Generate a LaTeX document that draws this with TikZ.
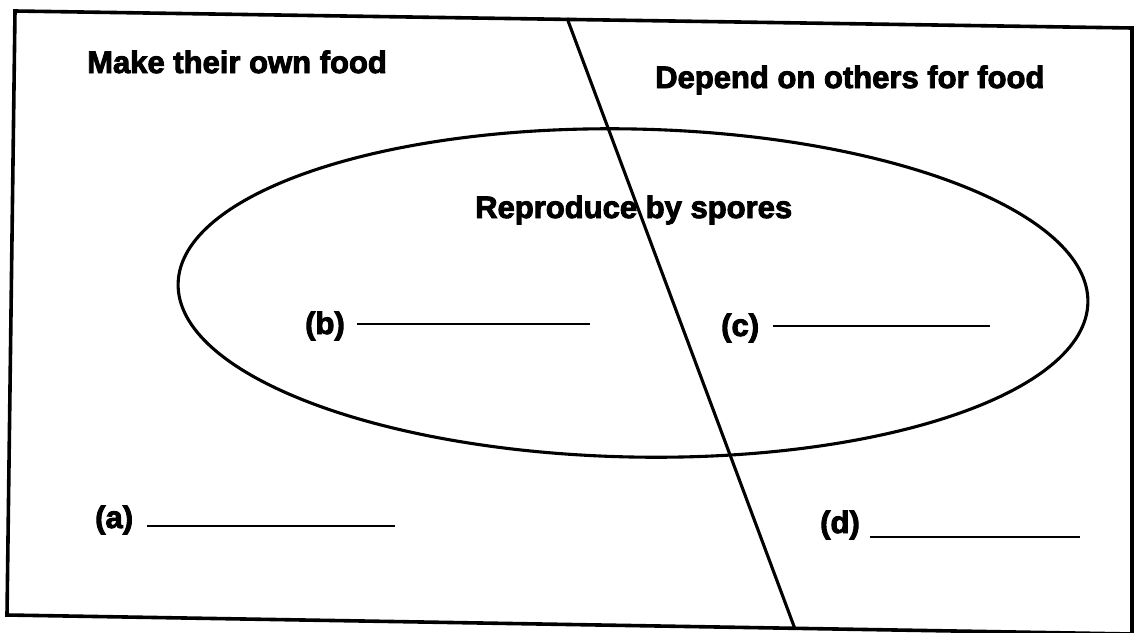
\documentclass[tikz,border=0pt]{standalone}
\usepackage{fontspec}
\setmainfont{Liberation Sans}[BoldFeatures={FakeBold=3}]
\usetikzlibrary{shapes.geometric}
\begin{document}
\begin{tikzpicture}[x=1pt,y=-1pt,
  txt/.style={inner sep=0pt, font=\fontsize{31}{37}\selectfont\bfseries},
  frame/.style={line width=3.6pt, line join=miter},
  curve/.style={line width=3.1pt},
  uline/.style={line width=2.4pt}]
\useasboundingbox (0,0) rectangle (1134,632);
% frame
\draw[frame] (15,11) -- (1132,28) -- (1132,634) -- (7,615) -- cycle;
% ellipse
\node[draw, curve, ellipse, minimum width=910pt, minimum height=328pt, inner sep=0pt, rotate=-1.2] (ell) at (633,293) {};
% diagonal divider
\coordinate (dtop) at (567,18);
\coordinate (dbot) at (795,629);
\draw[curve] (dtop) -- (dbot);
% headings
\node[txt, anchor=base west] (make) at (87,73) {Make their own food};
\node[txt, anchor=base west] (dep) at (655,88) {Depend on others for food};
\node[txt, anchor=base west] (rep) at (475,218) {Reproduce by spores};
% labels with blanks
\node[txt, anchor=base west] (b) at (305,334) {(b)};
\coordinate (b1) at (357,324); \coordinate (b2) at (590,324);
\draw[uline] (b1) -- (b2);
\node[txt, anchor=base west] (c) at (721,336) {(c)};
\coordinate (c1) at (773,326); \coordinate (c2) at (990,326);
\draw[uline] (c1) -- (c2);
\node[txt, anchor=base west] (a) at (95,528) {(a)};
\coordinate (a1) at (147,526); \coordinate (a2) at (395,526);
\draw[uline] (a1) -- (a2);
\node[txt, anchor=base west] (d) at (820,533) {(d)};
\coordinate (d1) at (870,537); \coordinate (d2) at (1080,537);
\draw[uline] (d1) -- (d2);
\end{tikzpicture}
\end{document}
